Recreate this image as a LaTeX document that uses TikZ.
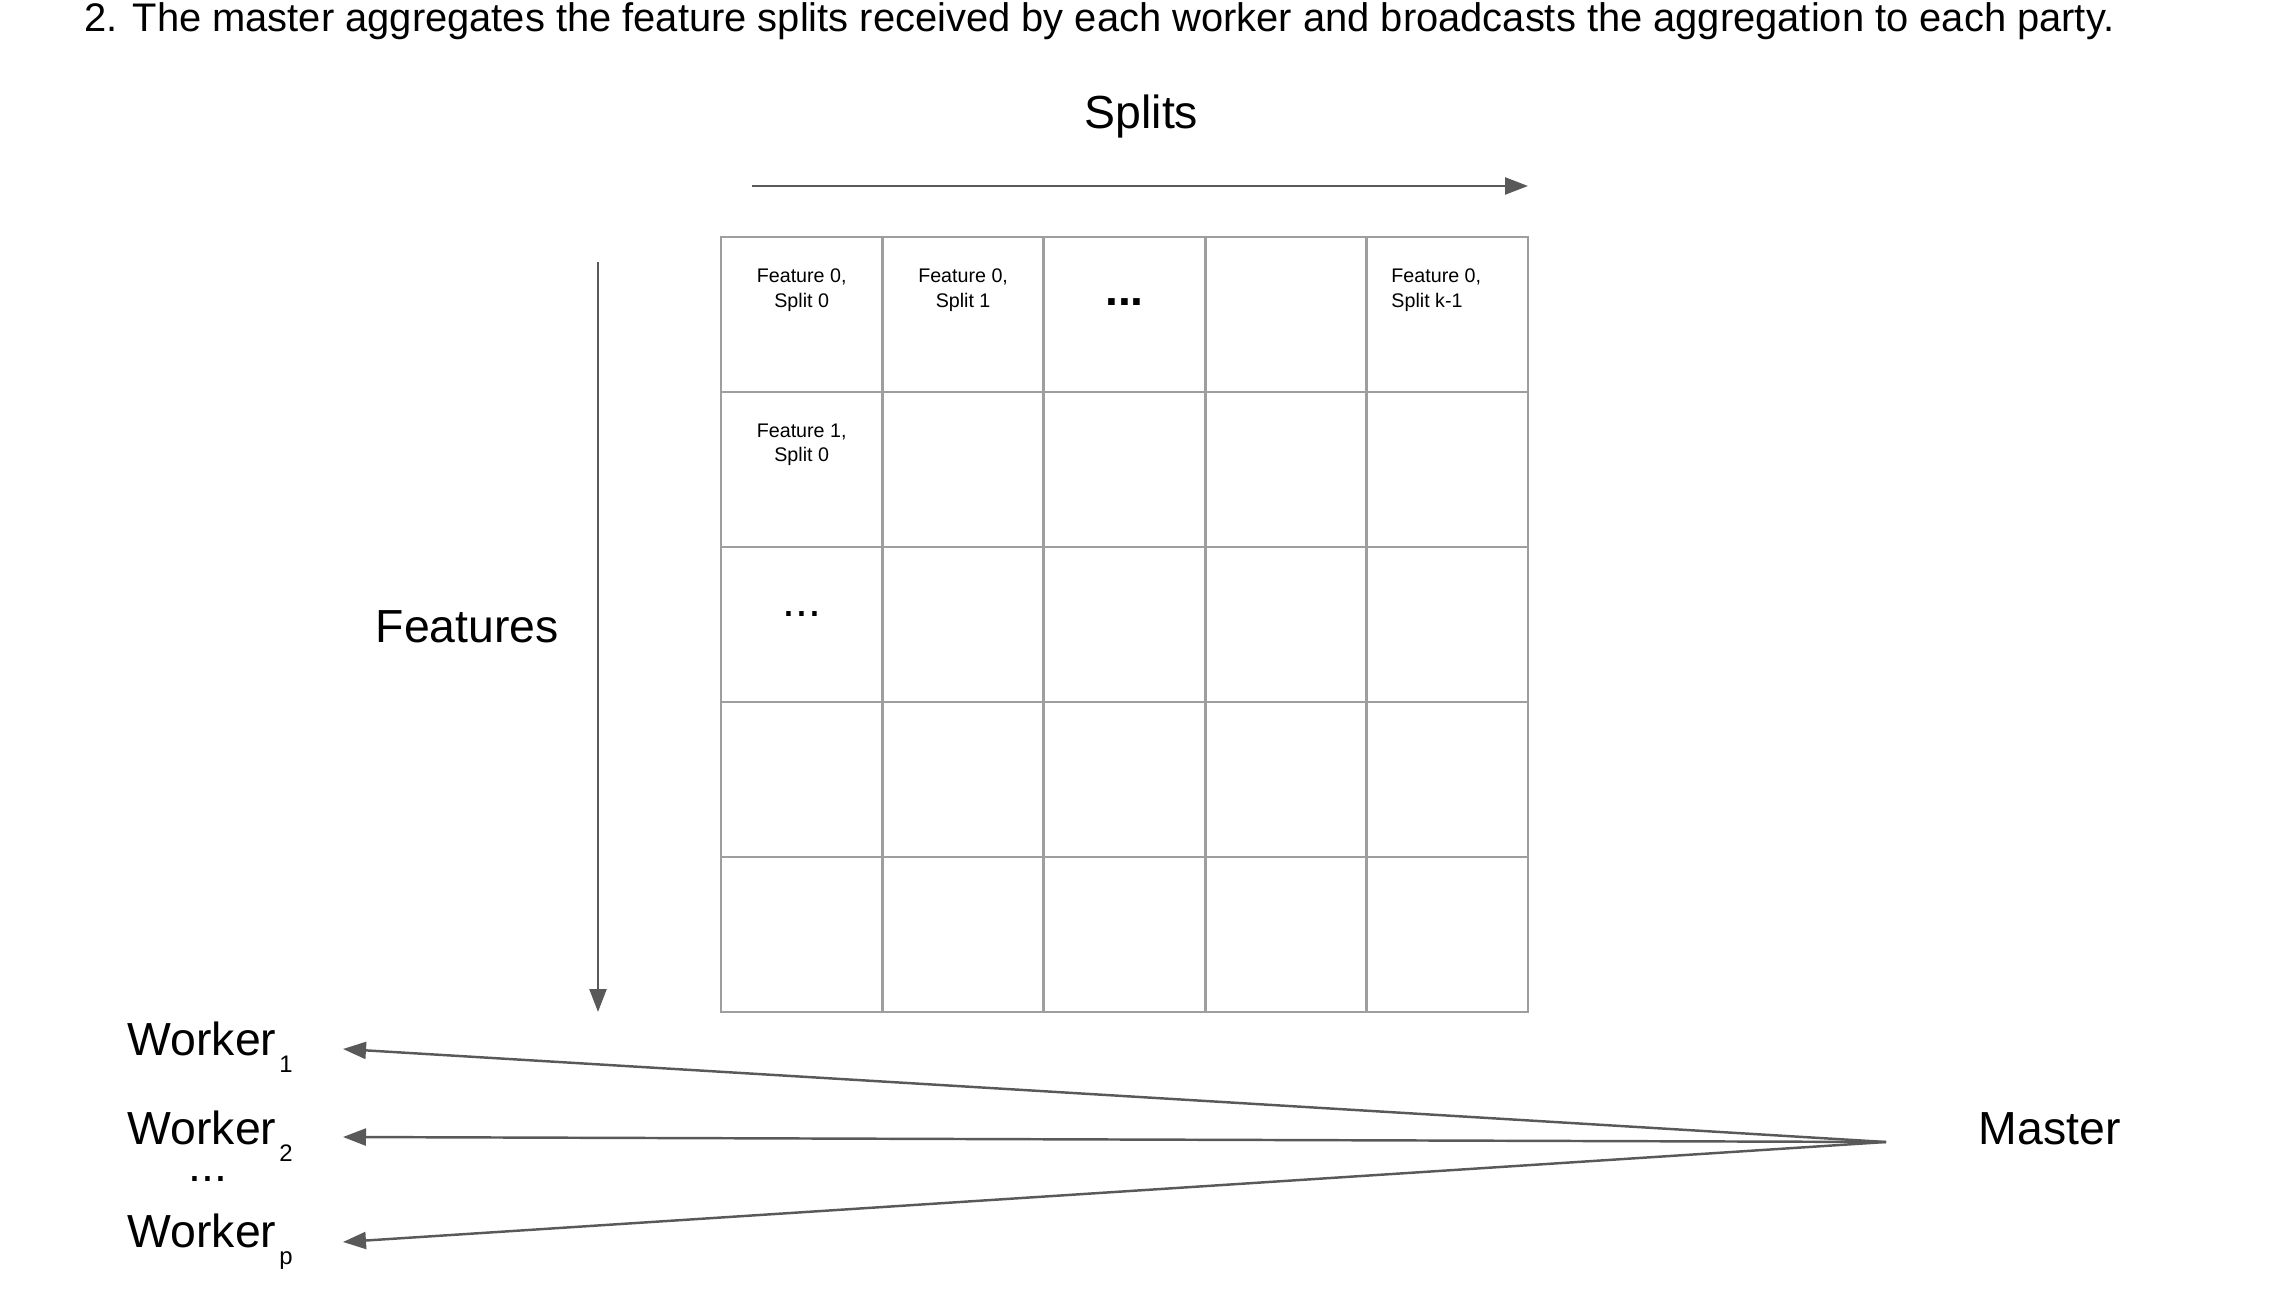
\documentclass[tikz,border=0pt]{standalone}
\usepackage{fontspec}
\setmainfont{Liberation Sans}
\usetikzlibrary{chains,positioning,arrows.meta}

\definecolor{gridgray}{HTML}{9E9E9E}
\definecolor{arrowgray}{HTML}{595959}

\newcommand{\wsub}[1]{\kern0.03cm\raisebox{-0.17cm}{\fontsize{6.8}{6.8}\selectfont #1}}

\begin{document}
\begin{tikzpicture}
		\tikzstyle{cell}=[draw=gridgray,line width=0.75pt,minimum width=1.614cm,minimum height=1.55cm,inner sep=0pt,outer sep=0pt]
		\tikzstyle{celltext}=[anchor=north,yshift=-0.31cm,align=center,inner sep=0pt,font=\fontsize{5.6}{7.0}\selectfont]
		\tikzstyle{celldots}=[anchor=base,yshift=-0.7cm,inner sep=0pt,font=\fontsize{13.2}{13}\selectfont]
		\tikzstyle{bigtext}=[anchor=base west,inner sep=0pt,font=\fontsize{13.2}{15}\selectfont]
		\tikzstyle{bcast}=[draw=arrowgray,line width=0.7pt,-{Triangle[length=0.23cm,width=0.17cm]}]
		
		\useasboundingbox (0,0) rectangle (22.8,-12.94);
		
		%% Title
		\node [anchor=base west,inner sep=0pt,font=\fontsize{11.35}{13}\selectfont] (title) at (0.84,-0.32)
		{2. The master aggregates the feature splits received by each worker and broadcasts the aggregation to each party.};
		
		%% Axes
		\node [bigtext] (splits) at (10.84,-1.29) {Splits};
		\node [bigtext] (features) at (3.75,-6.43) {Features};
		\coordinate (splitstail) at (7.52,-1.86);
		\coordinate (splitshead) at (15.28,-1.86);
		\coordinate (featurestail) at (5.98,-2.62);
		\coordinate (featureshead) at (5.98,-10.12);
		\draw [bcast] (splitstail) -- (splitshead);
		\draw [bcast] (featurestail) -- (featureshead);
		
		%% Grid of feature splits
		\begin{scope}[start chain=grid going right,node distance=0pt]
		
		\node [on chain=grid,cell,anchor=north west,label={[celltext]north:{Feature 0,\\Split 0}}] at (7.21,-2.37) {};
		\node [on chain=grid,cell,label={[celltext]north:{Feature 0,\\Split 1}}] {};
		\node [on chain=grid,cell,label={[celldots,yshift=0.01cm,font=\fontsize{13.2}{13}\selectfont\bfseries]north:{...}}] {};
		\node [on chain=grid,cell] {};
		\node [on chain=grid,cell,label={[celltext,align=left,xshift=-0.11cm]north:{Feature 0,\\Split k-1}}] {};
		
		\node [on chain=grid,cell,below=of grid-1,label={[celltext]north:{Feature 1,\\Split 0}}] {};
		\node [on chain=grid,cell] {};
		\node [on chain=grid,cell] {};
		\node [on chain=grid,cell] {};
		\node [on chain=grid,cell] {};
		
		\node [on chain=grid,cell,below=of grid-6,label={[celldots]north:{...}}] {};
		\node [on chain=grid,cell] {};
		\node [on chain=grid,cell] {};
		\node [on chain=grid,cell] {};
		\node [on chain=grid,cell] {};
		
		\node [on chain=grid,cell,below=of grid-11] {};
		\node [on chain=grid,cell] {};
		\node [on chain=grid,cell] {};
		\node [on chain=grid,cell] {};
		\node [on chain=grid,cell] {};
		
		\node [on chain=grid,cell,below=of grid-16] {};
		\node [on chain=grid,cell] {};
		\node [on chain=grid,cell] {};
		\node [on chain=grid,cell] {};
		\node [on chain=grid,cell] {};
		
		\end{scope}
		
		%% Workers and master
		\node [bigtext] (worker1) at (1.27,-10.55) {Worker\wsub{1}};
		\node [bigtext] (worker2) at (1.27,-11.44) {Worker\wsub{2}};
		\node [anchor=base,inner sep=0pt,font=\fontsize{13.2}{13}\selectfont] (workerdots) at (2.08,-11.81) {...};
		\node [bigtext] (workerp) at (1.27,-12.47) {Worker\wsub{p}};
		\node [bigtext] (master) at (19.78,-11.44) {Master};
		
		\coordinate (hub) at (18.86,-11.42);
		\coordinate (w1tip) at (3.43,-10.49);
		\coordinate (w2tip) at (3.43,-11.37);
		\coordinate (wptip) at (3.43,-12.42);
		\draw [bcast] (hub) -- (w1tip);
		\draw [bcast] (hub) -- (w2tip);
		\draw [bcast] (hub) -- (wptip);
		
\end{tikzpicture}
\end{document}
